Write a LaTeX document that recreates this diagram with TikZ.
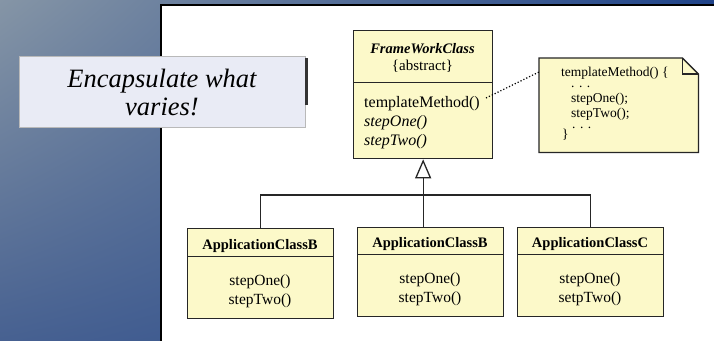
\documentclass[tikz,border=0pt]{standalone}
\usepackage{fontspec}
\setmainfont{Liberation Serif}
\usetikzlibrary{arrows.meta,shadings}
\definecolor{bgUL}{HTML}{8595A6}
\definecolor{bgUR}{HTML}{1F4389}
\definecolor{bgLL}{HTML}{476191}
\definecolor{bgLR}{HTML}{2A4C8E}
\definecolor{umlfill}{HTML}{FCF9C9}
\definecolor{calloutfill}{HTML}{E9EBF5}
\begin{document}
\begin{tikzpicture}[x=1pt,y=-1pt,
  box/.style={draw=black!85, line width=1.3pt, fill=umlfill, inner sep=0pt, anchor=north west},
  txt/.style={inner sep=0pt, anchor=base, text=black},
  ltxt/.style={inner sep=0pt, anchor=base west, text=black},
  mfont/.style={font=\fontsize{15.5}{19}\selectfont},
  hfont/.style={font=\fontsize{14.5}{18}\selectfont\bfseries},
  nfont/.style={font=\fontsize{13.5}{16}\selectfont},
  dots/.style={ltxt, nfont, text height=2pt, text depth=0pt},
  link/.style={draw=black!85, line width=1.3pt}]
\useasboundingbox (0,0) rectangle (714,340);
% background
\shade[upper left=bgUL, upper right=bgUR, lower left=bgLL, lower right=bgLR] (0,0) rectangle (714,340);
% white panel
\draw[fill=white, draw=black, line width=1.6pt] (161,5) rectangle (730,360);

% callout
\node[fill=calloutfill, draw=gray!55, line width=0.6pt, minimum width=286pt, minimum height=71pt, anchor=north west, inner sep=0pt] (callout) at (19,56) {};
\fill[gray!40!black] (305,58) rectangle (308,105);
\node[txt, font=\fontsize{26.5}{30}\selectfont\itshape] (cl1) at (162,87) {Encapsulate what};
\node[txt, font=\fontsize{26.5}{30}\selectfont\itshape] (cl2) at (162,115) {varies!};

% FrameWorkClass
\node[box, minimum width=139pt, minimum height=52pt] (fwh) at (353,30) {};
\node[box, minimum width=139pt, minimum height=76pt] (fwb) at (353,82) {};
\node[txt, hfont] (fwname) at (422.5,53) {\textit{FrameWorkClass}};
\node[txt, font=\fontsize{15}{18}\selectfont] (fwabs) at (422.5,70) {\{abstract\}};
\node[ltxt, font=\fontsize{16}{19}\selectfont] (tm) at (364,107) {templateMethod()};
\node[ltxt, font=\fontsize{16}{19}\selectfont\itshape] (fw1) at (364,126) {stepOne()};
\node[ltxt, font=\fontsize{16}{19}\selectfont\itshape] (fw2) at (364,145) {stepTwo()};

% note
\node[inner sep=0pt, minimum width=159pt, minimum height=94pt, anchor=north west] (note) at (539,58) {};
\draw[draw=black!85, line width=1.3pt, fill=umlfill]
  (note.north west) -- ([xshift=-16pt]note.north east) -- ([yshift=-16pt]note.north east)
  -- (note.south east) -- (note.south west) -- cycle;
\draw[draw=black!85, line width=1.1pt] ([xshift=-16pt]note.north east) |- ([yshift=-16pt]note.north east);
\node[ltxt, nfont] (n1) at (561,76) {templateMethod() \{};
\node[dots] (n2) at (571,87) {. . .};
\node[ltxt, nfont] (n3) at (571,102) {stepOne();};
\node[ltxt, nfont] (n4) at (571,117) {stepTwo();};
\node[dots] (n5) at (572,128) {. . .};
\node[ltxt, nfont] (n6) at (562,138) {\}};
\coordinate (tmEnd) at (486,98);
\coordinate (noteIn) at (539,72);
\draw[black, line width=1.2pt, dotted] (tmEnd) -- (noteIn);

% subclasses
\node[box, minimum width=146pt, minimum height=28pt] (b1h) at (187,228) {};
\node[box, minimum width=146pt, minimum height=62pt] (b1) at (187,256) {};
\node[txt, hfont] (b1n) at (260,249) {ApplicationClassB};
\node[txt, mfont] (b1m1) at (260,285) {stepOne()};
\node[txt, mfont] (b1m2) at (260,304) {stepTwo()};

\node[box, minimum width=146pt, minimum height=27pt] (b2h) at (357,227) {};
\node[box, minimum width=146pt, minimum height=62pt] (b2) at (357,254) {};
\node[txt, hfont] (b2n) at (430,247) {ApplicationClassB};
\node[txt, mfont] (b2m1) at (430,283) {stepOne()};
\node[txt, mfont] (b2m2) at (430,302) {stepTwo()};

\node[box, minimum width=146pt, minimum height=27pt] (ch) at (517,227) {};
\node[box, minimum width=146pt, minimum height=62pt] (c) at (517,254) {};
\node[txt, hfont] (cn) at (590,247) {ApplicationClassC};
\node[txt, mfont] (cm1) at (590,283) {stepOne()};
\node[txt, mfont] (cm2) at (590,302) {setpTwo()};

% generalization
\coordinate (j) at (422.5,195);
\draw[link, -{Triangle[open, length=19pt, width=16pt, line width=1.3pt]}] (b2h.north -| fwb.south) -- (fwb.south);
\draw[link] (b1h.north) |- (j) -| (ch.north);
\end{tikzpicture}
\end{document}
